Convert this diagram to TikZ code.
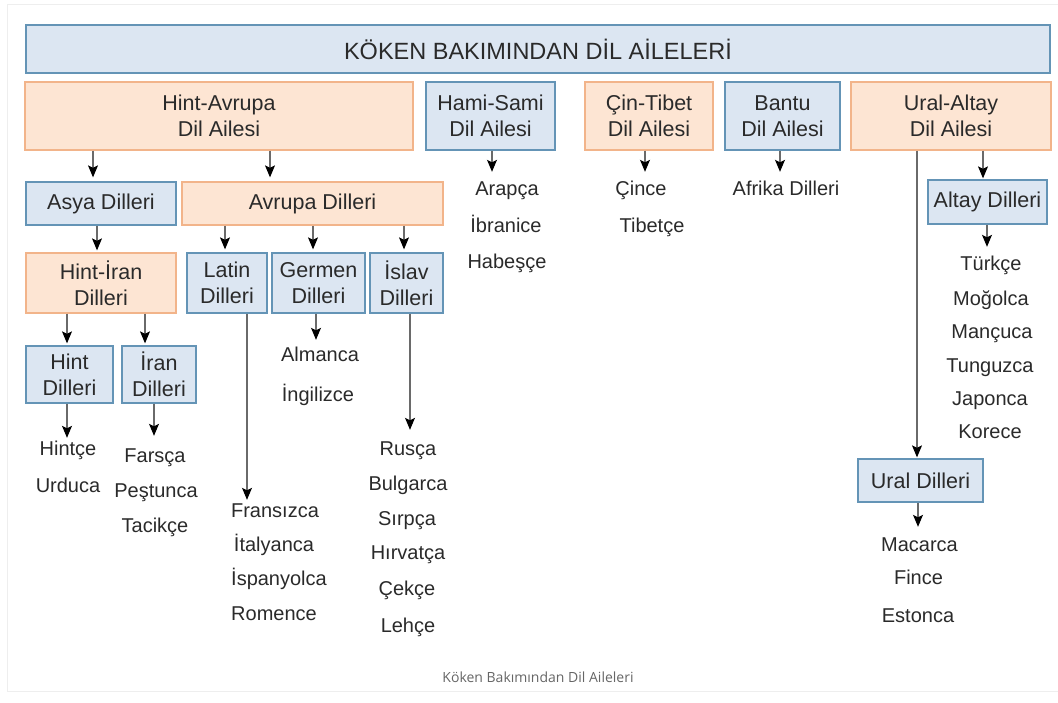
\documentclass[tikz,border=0pt]{standalone}
\usepackage{fontspec}
\setmainfont{Liberation Sans}
\newfontfamily\capfont{Open Sans}
\usetikzlibrary{arrows.meta}
\definecolor{bfill}{HTML}{DCE6F2}
\definecolor{bline}{HTML}{6494B6}
\definecolor{pfill}{HTML}{FDE5D3}
\definecolor{pline}{HTML}{F2B48A}
\definecolor{txt}{HTML}{2A2A2A}
\definecolor{lgray}{HTML}{6A6A6A}
\definecolor{frame}{HTML}{EEEEEE}
\tikzset{
  boxbase/.style={draw, line width=1.3pt, inner sep=0pt, align=center, text=txt,
    font=\fontsize{21.5}{26}\selectfont},
  bbox/.style={boxbase, fill=bfill, draw=bline},
  pbox/.style={boxbase, fill=pfill, draw=pline},
  item/.style={inner sep=1pt, text height=14pt, text depth=4pt, text=txt,
    font=\fontsize{20}{22}\selectfont},
  arr/.style={draw=lgray, line width=1.1pt, -{Stealth[length=12pt,width=10pt,inset=2.5pt,black]}},
}
\begin{document}
\begin{tikzpicture}[x=1pt,y=-1pt]
\useasboundingbox (0,0) rectangle (1058,702);
\draw[frame, line width=1pt] (1058,4) -- (7.5,4) -- (7.5,691) -- (1058,691);

% title
\node[bbox, minimum width=1024, minimum height=48, font=\fontsize{23.5}{26}\selectfont] (title) at (538,49) {KÖKEN BAKIMINDAN DİL AİLELERİ};

% families
\node[pbox, minimum width=388, minimum height=68] (hintavrupa) at (219,116) {Hint-Avrupa\\Dil Ailesi};
\node[bbox, minimum width=129, minimum height=68] (hamisami) at (490.5,116) {Hami-Sami\\Dil Ailesi};
\node[pbox, minimum width=128, minimum height=68] (cintibet) at (649,116) {Çin-Tibet\\Dil Ailesi};
\node[bbox, minimum width=115, minimum height=68] (bantu) at (782.5,116) {Bantu\\Dil Ailesi};
\node[pbox, minimum width=200, minimum height=68] (uralaltay) at (951,116) {Ural-Altay\\Dil Ailesi};

% second level
\node[bbox, minimum width=150, minimum height=43] (asya) at (101,203.5) {Asya Dilleri};
\node[pbox, minimum width=261, minimum height=43] (avrupa) at (312.5,203.5) {Avrupa Dilleri};
\node[pbox, minimum width=150, minimum height=60] (hintiran) at (101,283) {Hint-İran\\Dilleri};
\node[bbox, minimum width=80, minimum height=60] (latin) at (227,283) {Latin\\Dilleri};
\node[bbox, minimum width=93, minimum height=60] (germen) at (318.5,283) {Germen\\Dilleri};
\node[bbox, minimum width=73, minimum height=60] (islav) at (406.5,283) {İslav\\Dilleri};
\node[bbox, minimum width=87, minimum height=57] (hint) at (69.5,374.5) {Hint\\Dilleri};
\node[bbox, minimum width=74, minimum height=57] (iran) at (159,374.5) {İran\\Dilleri};
\node[bbox, minimum width=119, minimum height=44] (altay) at (987.5,202) {Altay Dilleri};
\node[bbox, minimum width=125, minimum height=43] (ural) at (920.5,480.5) {Ural Dilleri};

% items
\node[item] (hintce) at (68,450) {Hintçe};
\node[item] (urduca) at (68,487) {Urduca};
\node[item] (farsca) at (155,457) {Farsça};
\node[item] (pestunca) at (156,492) {Peştunca};
\node[item] (tacikce) at (155,527) {Tacikçe};
\node[item] (fransizca) at (275,512) {Fransızca};
\node[item] (italyanca) at (274,546) {İtalyanca};
\node[item] (ispanyolca) at (279,580) {İspanyolca};
\node[item] (romence) at (274,615) {Romence};
\node[item] (almanca) at (320,356) {Almanca};
\node[item] (ingilizce) at (318,396) {İngilizce};
\node[item] (rusca) at (408,450) {Rusça};
\node[item] (bulgarca) at (408,485) {Bulgarca};
\node[item] (sirpca) at (407,520) {Sırpça};
\node[item] (hirvatca) at (408,554) {Hırvatça};
\node[item] (cekce) at (407,590) {Çekçe};
\node[item] (lehce) at (408,627) {Lehçe};
\node[item] (arapca) at (507,190) {Arapça};
\node[item] (ibranice) at (506,227) {İbranice};
\node[item] (habesce) at (507,263) {Habeşçe};
\node[item] (cince) at (641,190) {Çince};
\node[item] (tibetce) at (652,227) {Tibetçe};
\node[item] (afrika) at (786,190) {Afrika Dilleri};
\node[item] (turkce) at (991,265) {Türkçe};
\node[item] (mogolca) at (991,300) {Moğolca};
\node[item] (mancuca) at (992,333) {Mançuca};
\node[item] (tunguzca) at (990,367) {Tunguzca};
\node[item] (japonca) at (990,400) {Japonca};
\node[item] (korece) at (990,433) {Korece};
\node[item] (macarca) at (919.5,546) {Macarca};
\node[item] (fince) at (918.5,579) {Fince};
\node[item] (estonca) at (918,617) {Estonca};

% caption
\node[text=black!60, font=\capfont\fontsize{14}{16}\selectfont] (caption) at (538,677) {Köken Bakımından Dil Aileleri};

% connectors
\draw[arr, shorten >=4pt] ([xshift=-126]hintavrupa.south) -- ([xshift=-8]asya.north);
\draw[arr, shorten >=4pt] ([xshift=51]hintavrupa.south) -- ([xshift=-42.5]avrupa.north);
\draw[arr, shorten >=2pt] ([xshift=-4]asya.south) -- ([xshift=-4]hintiran.north);
\draw[arr, shorten >=3pt] ([xshift=-87.5]avrupa.south) -- ([xshift=-2]latin.north);
\draw[arr, shorten >=3pt] ([xshift=0.5]avrupa.south) -- ([xshift=-5.5]germen.north);
\draw[arr, shorten >=3pt] ([xshift=91.5]avrupa.south) -- ([xshift=-2.5]islav.north);
\draw[arr, shorten >=2pt] ([xshift=-34]hintiran.south) -- ([xshift=-2.5]hint.north);
\draw[arr, shorten >=2pt] ([xshift=44]hintiran.south) -- ([xshift=-14]iran.north);
\draw[arr, shorten >=2pt] ([xshift=-2.5]hint.south) -- ([xshift=-1]hintce.north);
\draw[arr, shorten >=11pt] ([xshift=-5]iran.south) -- ([xshift=-1]farsca.north);
\draw[arr, shorten >=2pt] ([xshift=20]latin.south) -- ([xshift=-28]fransizca.north);
\draw[arr, shorten >=6pt] ([xshift=-2.5]germen.south) -- ([xshift=-4]almanca.north);
\draw[arr, shorten >=10pt] ([xshift=3.5]islav.south) -- ([xshift=2]rusca.north);
\draw[arr, shorten >=8pt] ([xshift=1.5]hamisami.south) -- ([xshift=-15]arapca.north);
\draw[arr, shorten >=8pt] ([xshift=-4]cintibet.south) -- ([xshift=4]cince.north);
\draw[arr, shorten >=8pt] ([xshift=-2.5]bantu.south) -- ([xshift=-6]afrika.north);
\draw[arr, shorten >=1pt] ([xshift=32]uralaltay.south) -- ([xshift=-4.5]altay.north);
\draw[arr, shorten >=1pt] ([xshift=-34]uralaltay.south) -- ([xshift=-3.5]ural.north);
\draw[arr, shorten >=8pt] ([xshift=-0.5]altay.south) -- ([xshift=-4]turkce.north);
\draw[arr, shorten >=9pt] ([xshift=-2.5]ural.south) -- ([xshift=-1.5]macarca.north);
\end{tikzpicture}
\end{document}
